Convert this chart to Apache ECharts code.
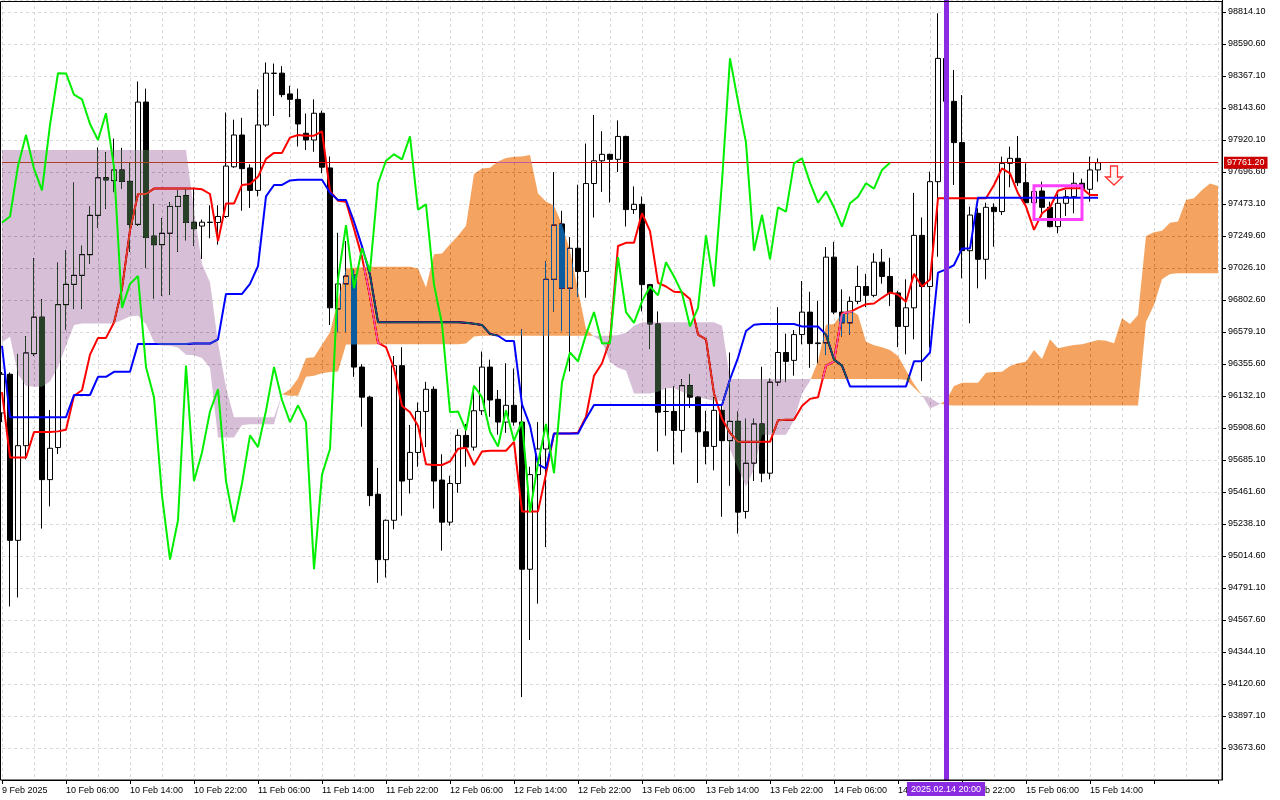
<!DOCTYPE html>
<html><head><meta charset="utf-8">
<script src="https://cdn.jsdelivr.net/npm/echarts@6/dist/echarts.min.js"></script>
<style>html,body{margin:0;padding:0;background:#fff}#c{width:1280px;height:800px}</style>
</head><body><div id="c"></div>
<script>
// ---------- data ----------
const tickLabels = ["9 Feb 2025","10 Feb 06:00","10 Feb 14:00","10 Feb 22:00","11 Feb 06:00","11 Feb 14:00","11 Feb 22:00","12 Feb 06:00","12 Feb 14:00","12 Feb 22:00","13 Feb 06:00","13 Feb 14:00","13 Feb 22:00","14 Feb 06:00","14 Feb 14:00","14 Feb 22:00","15 Feb 06:00","15 Feb 14:00"];
const yTickValues = { min: 93450.1, max: 98897.9, step: 223.5 };
const lastPrice = 97761.2;
const markerBarIndex = 118;           // vertical line 2025.02.14 20:00
const sellArrow = { bar: 139, price: 97672 };
const boxRect = { fromBar: 129, toBar: 135, top: 97600, bottom: 97365 };

// candles: [open, close, low, high]
const candles = [
[96014,96284,95950,96300],[96284,95124,94662,96296],[95124,95785,94725,96426],[95785,96433,95690,96550],[96428,96683,96413,97094],
[96683,95548,95206,96808],[95548,95767,95361,96034],[95772,96770,95727,97064],[96770,96912,96596,97149],[96912,96975,96740,97623],
[96975,97119,96740,97182],[97119,97394,97057,97456],[97394,97656,97306,97868],[97656,97641,97439,97835],[97636,97711,97556,97930],
[97711,97631,97581,97865],[97631,97331,97139,97763],[97331,98185,97320,98329],[98185,97239,97025,98279],[97249,97189,96813,97474],
[97189,97269,96833,97374],[97269,97456,96838,97486],[97456,97526,97139,97568],[97531,97344,97219,97581],[97346,97301,97182,97588],
[97319,97346,97089,97364],[97346,97344,97234,97464],[97344,97386,97189,97464],[97386,97738,97376,98112],[97733,97955,97725,98062],
[97955,97720,97426,98075],[97725,97568,97446,97750],[97568,98025,97526,98274],[98025,98387,98012,98461],[98387,98385,98087,98454],
[98387,98237,98219,98436],[98242,98204,98080,98299],[98204,98032,97875,98279],[97967,97920,97850,98105],[97920,98107,97838,98204],
[98107,97730,97688,98125],[97725,96748,96628,97805],[96740,96915,96578,97272],[96915,96970,96578,97214],[96977,96334,96266,97015],
[96334,96124,95917,96354],[96124,95436,95363,96134],[95446,94989,94827,95630],[94989,95264,94864,95270],[95264,96344,95201,96411],
[96344,95538,95296,96473],[95550,95738,95451,95930],[95738,96024,95638,96087],[96024,96179,95775,96231],[96179,95538,95346,96199],
[95545,95251,95052,95725],[95251,95521,95226,95575],[95521,95857,95456,95900],[95857,95775,95638,95937],[95775,96029,95750,96199],
[96029,96334,96000,96443],[96334,96104,95987,96386],[96109,95950,95862,96174],[95950,96067,95875,96361],[96067,95950,95925,96324],
[95950,94922,94029,96598],[94922,95583,94428,95638],[95583,95762,94682,95950],[95762,96947,95077,97072],[96947,97326,96723,97696],
[97334,96885,96585,97426],[96885,97164,96304,97242],[97164,97002,96823,97608],[97002,97616,96818,97895],[97616,97775,97379,98095],
[97775,97820,97558,97982],[97820,97785,97483,97825],[97785,97945,97696,98057],[97945,97434,97316,97950],[97434,97471,97404,97596],
[97471,96910,96723,97526],[96910,96635,96461,96915],[96635,96019,95745,96723],[96024,96024,95855,96186],[96024,95892,95655,96199],
[95892,96204,95737,96249],[96204,96124,96049,96286],[96124,95882,95525,96130],[95882,95780,95655,96029],[95780,96032,95613,96124],
[96032,95820,95288,96074],[95820,95955,95505,96436],[95955,95321,95171,96024],[95326,95663,95276,95974],[95663,95937,95538,95974],
[95937,95593,95530,96336],[95593,96229,95550,96254],[96229,96436,96204,96753],[96436,96374,96229,96568],[96381,96561,96274,96593],
[96561,96718,96493,96935],[96718,96498,96329,96860],[96498,96503,96361,96797],[96503,97102,96418,97172],[97102,96718,96703,97209],
[96718,96643,96548,96877],[96643,96793,96561,96827],[96793,96897,96773,97042],[96897,96835,96753,96985],[96835,97067,96822,97129],
[97067,96967,96917,97159],[96967,96852,96760,97097],[96852,96618,96473,96867],[96618,96748,96423,96947],[96748,97254,96528,97551],
[97254,96897,96236,97379],[96897,97629,96470,97699],[97629,98490,97105,98805],[98490,98190,98050,98730],[98190,97902,97606,98409],
[97902,97147,96954,98234],[97147,97396,96640,97455],[97408,97087,96884,97443],[97087,97450,96947,97482],[97450,97420,97175,97478],
[97420,97757,97396,97804],[97757,97792,97590,97874],[97792,97622,97599,97948],[97622,97482,97478,97757],[97482,97560,97440,97600],
[97564,97450,97385,97629],[97450,97315,97310,97489],[97315,97478,97268,97541],[97478,97524,97389,97571],[97524,97618,97408,97694],
[97618,97580,97540,97650],[97576,97711,97489,97804],[97711,97761.2,97629,97792]
];

const tenkan = [
96159,95703,95703,95703,95880,95880,95880,95885,95897,96134,
96172,96421,96538,96538,96645,96882,97290,97543,97543,97581,
97581,97581,97581,97581,97581,97576,97543,97214,97476,97476,
97606,97613,97663,97788,97830,97830,97937,97955,97950,97950,
97980,97563,97496,97489,97301,97102,96828,96503,96473,96324,
96062,96019,95925,95655,95650,95650,95675,95763,95770,95650,
95745,95750,95750,95750,95812,95326,95326,95326,95588,95870,
95870,95870,95875,95987,96274,96361,96523,97180,97202,97202,
97409,97284,96922,96897,96860,96857,96810,96561,96528,96149,
95974,95875,95812,95812,95812,95812,95812,95962,95967,95967,
96062,96112,96124,96344,96374,96710,96718,96748,96773,96778,
96818,96855,96840,96790,96985,96897,96945,97513,97513,97513,
97513,97513,97513,97513,97606,97722,97687,97548,97455,97292,
97408,97450,97566,97583,97583,97583,97536,97536
];

const kijun = [
96483,95984,95984,95984,95984,95984,95984,95984,95984,96139,
96139,96139,96266,96266,96301,96301,96301,96496,96496,96496,
96496,96496,96496,96496,96498,96498,96498,96528,96845,96845,
96845,96915,97039,97526,97606,97606,97638,97643,97643,97643,
97643,97551,97501,97501,97351,97177,96977,96648,96648,96648,
96648,96648,96648,96648,96648,96648,96648,96648,96643,96636,
96628,96566,96553,96516,96516,96074,95925,95655,95625,95870,
95870,95870,95870,95974,96069,96069,96069,96069,96069,96069,
96069,96069,96069,96069,96069,96069,96069,96069,96069,96069,
96069,96249,96399,96586,96630,96635,96635,96635,96635,96635,
96618,96618,96618,96561,96386,96344,96199,96199,96199,96199,
96199,96199,96199,96199,96374,96374,96436,96994,97017,97047,
97163,97163,97517,97517,97517,97517,97517,97517,97517,97517,
97517,97517,97517,97517,97517,97517,97517,97517
];

const spanA = [
96508,96546,96284,96204,96196,96196,96234,96334,96483,96628,
96638,96638,96638,96638,96638,96663,96688,96695,96633,96508,
96483,96483,96471,96420,96416,96398,96329,95842,95842,95842,
95930,95935,95935,95935,95935,96142,96179,96254,96398,96403,
96490,96578,96803,97022,97027,97032,97035,97035,97035,97035,
97035,97035,97022,96890,97122,97127,97192,97252,97321,97683,
97721,97726,97770,97795,97803,97805,97815,97546,97491,97460,
97330,97147,96872,96600,96548,96511,96370,96329,96311,96150,
96149,96149,96161,96186,96186,96161,96137,96124,96112,96099,
96099,95760,95625,95500,95620,95862,95862,95862,95862,95962,
96149,96236,96374,96630,96635,96710,96735,96698,96511,96486,
96473,96453,96411,96311,96216,96137,96045,96070,96100,96202,
96225,96225,96225,96295,96300,96302,96342,96360,96372,96453,
96390,96528,96465,96477,96488,96493,96508,96523,96518,96500,
96675,96635,96698,97250,97275,97287,97343,97350,97501,97513,
97571,97617,97599
];

const spanB = [
97850,97850,97850,97850,97850,97850,97850,97850,97850,97850,
97850,97850,97850,97850,97850,97850,97850,97850,97850,97850,
97850,97850,97850,97850,97426,97052,96927,96503,96191,95984,
95984,95984,95984,95984,95984,96142,96134,96134,96266,96274,
96291,96300,96304,96491,96491,96491,96491,96493,96493,96493,
96493,96493,96493,96493,96493,96493,96493,96493,96498,96548,
96553,96553,96553,96553,96553,96553,96553,96553,96553,96553,
96553,96553,96553,96553,96553,96553,96553,96558,96573,96623,
96648,96648,96648,96648,96648,96648,96648,96648,96648,96648,
96623,96250,96250,96250,96250,96250,96250,96250,96250,96250,
96250,96250,96250,96250,96250,96250,96250,96250,96250,96250,
96250,96250,96250,96245,96190,96137,96120,96085,96069,96065,
96065,96065,96065,96065,96065,96065,96065,96065,96065,96065,
96065,96065,96065,96065,96065,96065,96065,96065,96065,96065,
96065,96065,96065,96651,96768,96947,96984,96989,96989,96989,
96989,96989,96989
];

// ---------- build ----------
const N = spanA.length; // bars on screen incl. future cloud
const SHIFT = 26;
const pad = n => String(n).padStart(2, '0');
const categories = [];
const t0 = Date.UTC(2025, 1, 9, 22);
for (let i = 0; i < N; i++) {
  const d = new Date(t0 + i * 3600000);
  categories.push(d.getUTCFullYear() + '.' + pad(d.getUTCMonth() + 1) + '.' + pad(d.getUTCDate()) + ' ' + pad(d.getUTCHours()) + ':00');
}
const chikou = [];
for (let i = 0; i < N; i++) {
  chikou.push(i + SHIFT < candles.length ? candles[i + SHIFT][1] : null);
}

const ORANGE = '#f4a460', THISTLE = '#d8bfd8';
// inverse colours used with a 'difference' blend (terminal-style XOR fill)
const INV_ORANGE = '#0b5b9f', INV_THISTLE = '#274027';
const FONT = 'Liberation Sans';
let useBlend = true;

function renderCloud(params, api) {
  const pa = [], pb = [];
  for (let k = 0; k < N; k++) { pa.push(api.coord([k, spanA[k]])); pb.push(api.coord([k, spanB[k]])); }
  const runs = [];
  let cur = null;
  const diff = k => spanA[k] - spanB[k];
  const start = (sign, a, b) => { cur = { sign: sign, A: [a], B: [b] }; runs.push(cur); };
  start(diff(0) >= 0 ? 1 : -1, pa[0], pb[0]);
  for (let k = 0; k < N - 1; k++) {
    const d0 = diff(k), d1 = diff(k + 1);
    if (d0 * d1 < 0) {
      const t = d0 / (d0 - d1);
      const p = [pa[k][0] + t * (pa[k + 1][0] - pa[k][0]), pa[k][1] + t * (pa[k + 1][1] - pa[k][1])];
      cur.A.push(p); cur.B.push(p);
      start(d1 > 0 ? 1 : -1, p, p);
    } else if (d0 === 0 && d1 !== 0 && (d1 > 0 ? 1 : -1) !== cur.sign) {
      start(d1 > 0 ? 1 : -1, pa[k], pb[k]);
    }
    cur.A.push(pa[k + 1]); cur.B.push(pb[k + 1]);
  }
  return { type: 'group', children: runs.map(r => {
    const fill = useBlend ? (r.sign > 0 ? INV_ORANGE : INV_THISTLE) : (r.sign > 0 ? ORANGE : THISTLE);
    const style = { fill: fill };
    if (useBlend) style.blend = 'difference';
    return { type: 'polygon', shape: { points: r.A.concat(r.B.slice().reverse()) }, style: style };
  }) };
}

function renderBox(params, api) {
  const p1 = api.coord([api.value(0), api.value(2)]);
  const p2 = api.coord([api.value(1), api.value(3)]);
  return { type: 'rect', shape: { x: p1[0], y: p1[1], width: p2[0] - p1[0], height: p2[1] - p1[1] },
           style: { fill: null, stroke: '#ff40ff', lineWidth: 3 } };
}

function buildOption() {
  return {
    animation: false,
    backgroundColor: '#ffffff',
    grid: { left: 2, right: 62, top: 0, bottom: 20, containLabel: false, outerBoundsMode: 'none' },
    xAxis: {
      type: 'category', data: categories, boundaryGap: false,
      axisLine: { show: true, lineStyle: { color: '#000', width: 1 } },
      axisTick: { show: true, interval: i => i % 8 === 0, length: 4, lineStyle: { color: '#000' } },
      axisLabel: { interval: i => i % 8 === 0 && i < candles.length, formatter: (v, i) => tickLabels[i / 8] || '',
                   align: 'left', color: '#000', fontFamily: FONT, fontSize: 9, margin: 6 },
      splitLine: { show: true, interval: i => i % 4 === 0, lineStyle: { color: '#d9d9d9', type: [3, 3], width: 1 } }
    },
    yAxis: {
      type: 'value', position: 'right', offset: 4,
      min: yTickValues.min, max: yTickValues.max, interval: yTickValues.step,
      axisLine: { show: true, lineStyle: { color: '#000', width: 1 } },
      axisTick: { show: true, length: 4, lineStyle: { color: '#000' } },
      axisLabel: { formatter: v => Number(v).toFixed(2), showMinLabel: false, showMaxLabel: false,
                   color: '#000', fontFamily: FONT, fontSize: 9, margin: 6 },
      splitLine: { show: true, lineStyle: { color: '#d9d9d9', type: [3, 3], width: 1 } }
    },
    graphic: [{ type: 'rect', silent: true, z: 100,
      shape: { x: 0.5, y: 1.5, width: 1221.5, height: 778.5 }, style: { fill: null, stroke: '#000', lineWidth: 1 } }],
    series: [
      { type: 'custom', name: 'Kumo', renderItem: renderCloud, data: [[0, spanA[0]]], clip: true, silent: true,
        z: useBlend ? 4 : 1 },
      { type: 'candlestick', name: 'BTCUSD', data: candles, barWidth: 5, clip: true, z: 2,
        itemStyle: { color: '#ffffff', color0: '#000000', borderColor: '#000000', borderColor0: '#000000',
                     borderColorDoji: '#000000', borderWidth: 1 },
        markPoint: { silent: true, animation: false, z: 5,
          data: [{ coord: [categories[sellArrow.bar], sellArrow.price],
                   symbol: 'path://M5,0L12,0L12,11L17,11L8.5,19L0,11L5,11Z', symbolSize: [17, 19],
                   itemStyle: { color: '#fff4f4', borderColor: '#ff3030', borderWidth: 1.3 }, label: { show: false } }] }
      },
      { type: 'line', name: 'Tenkan-sen', data: tenkan, symbol: 'none', z: 3, lineStyle: { color: '#ff0000', width: 2 } },
      { type: 'line', name: 'Kijun-sen', data: kijun, symbol: 'none', z: 3, lineStyle: { color: '#0000ff', width: 2 },
        markLine: { symbol: 'none', silent: true, animation: false, z: 3,
          data: [{ yAxis: lastPrice, lineStyle: { color: '#d00000', width: 1, type: 'solid' },
                   label: { show: true, position: 'end', formatter: lastPrice.toFixed(2), color: '#fff',
                            backgroundColor: '#cc0000', padding: [2, 3, 1, 3], fontFamily: FONT, fontSize: 9, distance: 6 } }] } },
      { type: 'line', name: 'Chikou Span', data: chikou, symbol: 'none', z: 6, connectNulls: false, lineStyle: { color: '#00ee00', width: 2 },
        markLine: { symbol: 'none', silent: true, animation: false, z: 5,
          data: [{ xAxis: categories[markerBarIndex], lineStyle: { color: '#8a2be2', width: 5, type: 'solid' },
                   label: { show: true, position: 'start', formatter: categories[markerBarIndex], color: '#fff',
                            backgroundColor: '#8a2be2', padding: [3, 4, 2, 4], fontFamily: FONT, fontSize: 9, distance: 2 } }] } },
      { type: 'custom', name: 'box', renderItem: renderBox, data: [[boxRect.fromBar, boxRect.toBar, boxRect.top, boxRect.bottom]],
        encode: { x: [0, 1], y: [2, 3] }, z: 7, silent: true }
    ]
  };
}

const chart = echarts.init(document.getElementById('c'), null, { renderer: 'canvas' });
chart.setOption(buildOption());

function applyBlend() {
  const zr = chart.getZr();
  const list = zr.storage.getDisplayList(true);
  list.forEach(el => {
    if (el.style && (el.style.fill === INV_ORANGE || el.style.fill === INV_THISTLE)) {
      el.style.blend = 'difference';
      if (el.markRedraw) el.markRedraw(); else if (el.dirty) el.dirty();
    }
  });
  zr.refreshImmediately();
}
function blendWorks() {
  try {
    const canvas = chart.getDom().querySelector('canvas');
    const ctx = canvas.getContext('2d');
    const p = chart.convertToPixel({ xAxisIndex: 0, yAxisIndex: 0 }, [2, 97600]);
    const dpr = canvas.width / canvas.clientWidth;
    const d = ctx.getImageData(Math.round(p[0] * dpr), Math.round(p[1] * dpr), 1, 1).data;
    return d[0] > 150 && d[1] > 130;
  } catch (e) { return false; }
}
try { applyBlend(); } catch (e) {}
if (!blendWorks()) {
  useBlend = false;
  chart.setOption(buildOption(), true);
}
</script>
</body></html>
